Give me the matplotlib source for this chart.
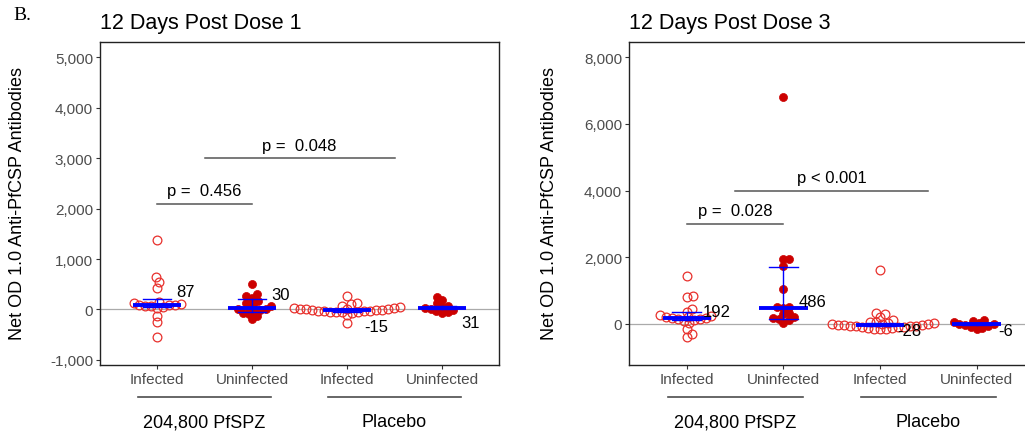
import numpy as np
import matplotlib.pyplot as plt
import matplotlib.transforms as mtransforms
from matplotlib.ticker import FuncFormatter, FixedLocator

plt.rcParams['font.family'] = ['Liberation Sans', 'DejaVu Sans']

categories = ['Infected', 'Uninfected', 'Infected', 'Uninfected']
groups = ['204,800 PfSPZ', 'Placebo']
titles = ['12 Days Post Dose 1', '12 Days Post Dose 3']
ylabel = 'Net OD 1.0 Anti-PfCSP Antibodies'

# 12 days post dose 1
d1_pfspz_inf = [1375, 649, 542, 430, 140, 125, 110, 95, 87, 80, 70, 60, 45, 30, -133, -252, -549]
d1_pfspz_uninf = [496, 298, 264, 232, 165, 133, 99, 66, 30, 13, 0, -20, -33, -60, -99, -133, -198]
d1_plac_inf = [264, 133, 99, 66, 40, 33, 25, 15, 10, 5, 0, -5, -15, -20, -25, -30, -33, -38,
               -42, -45, -50, -53, -60, -119, -264]
d1_plac_uninf = [250, 185, 120, 75, 45, 31, 15, -5, -30, -55, -75]
d1_median = [87, 30, -15, 31]
d1_lo = [40, -53, -45, 0]
d1_hi = [205, 198, 15, 60]
d1_pvals = ['p =  0.456', 'p =  0.048']
d1_pval_y = [2100, 3000]

# 12 days post dose 3
d3_pfspz_inf = [1455, 853, 823, 442, 371, 271, 250, 221, 201, 192, 171, 160, 140, 120, 100, 20,
                -150, -300, -400]
d3_pfspz_uninf = [6800, 1948, 1940, 1726, 1045, 521, 500, 486, 322, 300, 201, 180, 141, 120, 40]
d3_plac_inf = [1627, 341, 301, 201, 120, 60, 50, 30, 20, 10, 0, -10, -20, -28, -35, -45, -55,
               -60, -70, -80, -90, -100, -110, -120, -135, -150, -160]
d3_plac_uninf = [130, 90, 60, 30, 10, -6, -25, -50, -80, -110, -140]
d3_median = [192, 486, -28, -6]
d3_lo = [120, 140, -70, -40]
d3_hi = [371, 1720, 30, 30]
d3_pvals = ['p =  0.028', 'p < 0.001']
d3_pval_y = [3000, 4000]

OPEN_RED = '#e8302c'
FILL_RED = '#cc0000'
BLUE = '#0000ff'
GREY = '#4d4d4d'


def swarm_offsets(ax, values, diam=6.0):
    # simple beeswarm: place points low to high, nudging sideways until they don't collide
    vals = np.asarray(values, float)
    y_px = ax.transData.transform(np.column_stack([np.ones_like(vals), vals]))[:, 1]
    unit = ax.transData.transform((1, 0))[0] - ax.transData.transform((0, 0))[0]
    placed = []
    offs = np.zeros(len(vals))
    for i in np.argsort(vals, kind='stable'):
        y = y_px[i]
        cands = [0.0]
        for px, py in placed:
            dy = abs(y - py)
            if dy < diam:
                dx = np.sqrt(diam**2 - dy**2)
                cands += [px + dx, px - dx]
        cands.sort(key=abs)
        for c in cands:
            if all((c - px)**2 + (y - py)**2 >= diam**2 - 1e-6 for px, py in placed):
                break
        offs[i] = c
        placed.append((c, y))
    return offs / unit


fig = plt.figure(figsize=(10.25, 4.35), dpi=100)
W, H = 1025.0, 435.0

panels = [
    dict(rect=[100 / W, 69 / H, 399 / W, 323 / H], ylim=(-1100, 5300),
         ticks=[-1000, 0, 1000, 2000, 3000, 4000, 5000],
         data=[d1_pfspz_inf, d1_pfspz_uninf, d1_plac_inf, d1_plac_uninf],
         med=d1_median, lo=d1_lo, hi=d1_hi, pvals=d1_pvals, pval_y=d1_pval_y,
         lab_dx=[0.2, 0.2, 0.18, 0.2], lab_dy=[10, 10, -11.5, -10.5], ylab_x=18),
    dict(rect=[629 / W, 69 / H, 405.5 / W, 323 / H], ylim=(-1230, 8460),
         ticks=[0, 2000, 4000, 6000, 8000],
         data=[d3_pfspz_inf, d3_pfspz_uninf, d3_plac_inf, d3_plac_uninf],
         med=d3_median, lo=d3_lo, hi=d3_hi, pvals=d3_pvals, pval_y=d3_pval_y,
         lab_dx=[0.16, 0.156, 0.18, 0.22], lab_dy=[4.7, 4.8, -4.3, -4.3], ylab_x=550),
]

xpos = np.arange(1, 5)
for k, p in enumerate(panels):
    ax = fig.add_axes(p['rect'])
    ax.set_xlim(0.4, 4.6)
    ax.set_ylim(*p['ylim'])
    ax.axhline(0, color='#aaaaaa', lw=0.9, zorder=1)

    for j, vals in enumerate(p['data']):
        xs = xpos[j] + swarm_offsets(ax, vals)
        if j % 2 == 0:
            ax.plot(xs, vals, 'o', ms=6.3, mfc='none', mec=OPEN_RED, mew=0.9, zorder=2)
        else:
            ax.plot(xs, vals, 'o', ms=5.8, mfc=FILL_RED, mec=FILL_RED, mew=0.5, zorder=2)

    # median bar with interquartile whiskers
    for j in range(4):
        x = xpos[j]
        ax.plot([x, x], [p['lo'][j], p['hi'][j]], color=BLUE, lw=1.0, zorder=3)
        for v in (p['lo'][j], p['hi'][j]):
            ax.plot([x - 0.15, x + 0.15], [v, v], color=BLUE, lw=1.0, zorder=3)
        ax.plot([x - 0.25, x + 0.25], [p['med'][j]] * 2, color=BLUE, lw=2.8,
                solid_capstyle='butt', zorder=4)
        ax.annotate(f"{p['med'][j]}", (x + p['lab_dx'][j], p['med'][j]),
                    xytext=(0, p['lab_dy'][j]), textcoords='offset points',
                    ha='left', va='center', fontsize=12, color='black', zorder=5)

    # significance bars
    spans = [(1, 2), (1.5, 3.5)]
    for (a, b), txt, yv in zip(spans, p['pvals'], p['pval_y']):
        ax.plot([a, b], [yv, yv], color='#555555', lw=1.1, zorder=2)
        ax.annotate(txt, ((a + b) / 2, yv), xytext=(0, 4), textcoords='offset points',
                    ha='center', va='bottom', fontsize=12, color='black')

    ax.yaxis.set_major_locator(FixedLocator(p['ticks']))
    ax.yaxis.set_major_formatter(FuncFormatter(lambda v, pos: f'{v:,.0f}'))
    ax.set_xticks(xpos)
    ax.set_xticklabels(categories)
    ax.tick_params(axis='both', length=3, width=0.8, color='#333333', labelsize=11,
                   labelcolor=GREY, pad=2)
    for s in ax.spines.values():
        s.set_color('#222222')
        s.set_linewidth(1.0)

    # treatment group brackets under the category labels
    trans = mtransforms.blended_transform_factory(ax.transData, ax.transAxes)
    for g, (a, b) in enumerate([(0.8, 2.2), (2.8, 4.2)]):
        ax.plot([a, b], [-0.098, -0.098], transform=trans, color=GREY, lw=1.2, clip_on=False)
        ax.text((a + b) / 2, -0.175, groups[g], transform=trans, ha='center', va='center',
                fontsize=13, color='black')

    fig.text(p['rect'][0], 1 - 24 / H, titles[k], ha='left', va='center', fontsize=15.5)
    fig.text(p['ylab_x'] / W, 1 - 204 / H, ylabel, rotation=90, ha='center', va='center',
             fontsize=13)

fig.text(13 / W, 1 - 15 / H, 'B.', family=['Liberation Serif', 'DejaVu Serif'], fontsize=14,
         ha='left', va='center')

fig.savefig('out.png', dpi=100)
